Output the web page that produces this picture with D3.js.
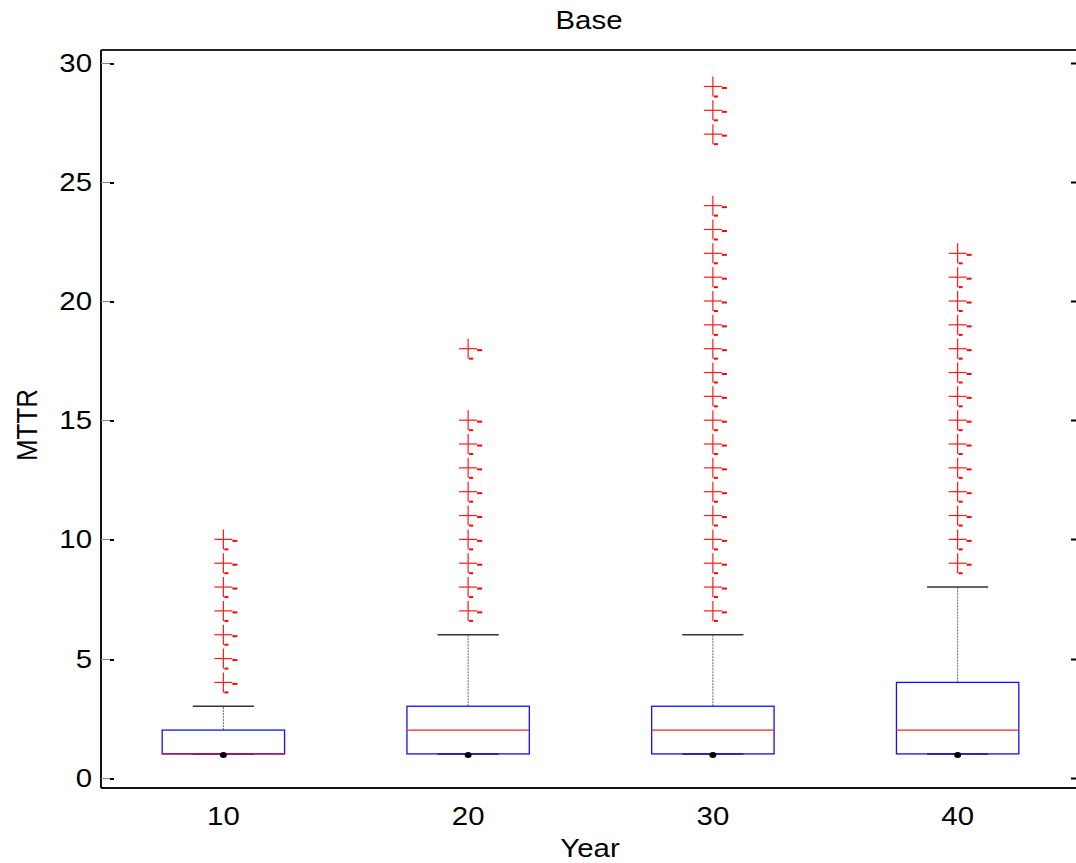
<!DOCTYPE html>
<html>
<head>
<meta charset="utf-8">
<script src="https://cdn.jsdelivr.net/npm/d3@7"></script>
<style>
  body { margin: 0; background: #fff; }
  svg { display: block; font-family: "Liberation Sans", Arial, sans-serif; }
</style>
</head>
<body>
<div id="chart"></div>
<script>
// box plot data
const years = ["10", "20", "30", "40"];
const q1 = [1, 1, 1, 1];
const medians = [1, 2, 2, 2];
const q3 = [2, 3, 3, 4];
const whiskerLow = [1, 1, 1, 1];
const whiskerHigh = [3, 6, 6, 8];
const outliers = [
  [4, 5, 6, 7, 8, 9, 10],
  [7, 8, 9, 10, 11, 12, 13, 14, 15, 18],
  [7, 8, 9, 10, 11, 12, 13, 14, 15, 16, 17, 18, 19, 20, 21, 22, 23, 24, 27, 28, 29],
  [9, 10, 11, 12, 13, 14, 15, 16, 17, 18, 19, 20, 21, 22]
];
const yTicks = [0, 5, 10, 15, 20, 25, 30];

const W = 1076, H = 863;
const plot = { left: 101, top: 50, right: 1080, bottom: 788 };
const stretch = 1.13; // the picture is a bit wider than tall, text too

const svg = d3.select("#chart").append("svg")
  .attr("width", W)
  .attr("height", H);

const x = d3.scaleLinear().domain([0.5, 4.5]).range([plot.left, plot.right]);
const y = d3.scaleLinear().domain([-0.43, 30.53]).range([plot.bottom, plot.top]);

const boxHalf = 0.25, capHalf = 0.125;

function label(px, py, txt, anchor, rot) {
  return svg.append("text")
    .attr("transform", `translate(${px},${py}) scale(${stretch},1)` + (rot ? ` rotate(${rot})` : ""))
    .attr("text-anchor", anchor)
    .style("font-size", "26px")
    .text(txt);
}

// axes frame
svg.append("line").attr("x1", plot.left).attr("x2", plot.left).attr("y1", plot.top).attr("y2", plot.bottom)
  .attr("stroke", "#111").attr("stroke-width", 2);
svg.append("line").attr("x1", plot.left).attr("x2", plot.right).attr("y1", plot.bottom).attr("y2", plot.bottom)
  .attr("stroke", "#111").attr("stroke-width", 2);
svg.append("line").attr("x1", plot.left).attr("x2", plot.right).attr("y1", plot.top).attr("y2", plot.top)
  .attr("stroke", "#222").attr("stroke-width", 2);

// y ticks (left & right)
const yt = svg.append("g");
yTicks.forEach(t => {
  const yy = Math.round(y(t)) + 0.5;
  yt.append("line").attr("x1", plot.left).attr("x2", plot.left + 9).attr("y1", yy).attr("y2", yy)
    .attr("stroke", "#888").attr("stroke-width", 1);
  yt.append("line").attr("x1", plot.left + 9).attr("x2", plot.left + 13).attr("y1", yy + 0.5).attr("y2", yy + 0.5)
    .attr("stroke", "#000").attr("stroke-width", 2);
  yt.append("line").attr("x1", plot.right - 9).attr("x2", plot.right - 4).attr("y1", yy).attr("y2", yy)
    .attr("stroke", "#000").attr("stroke-width", 2);
  label(92, y(t) + 9, t, "end");
});

// x tick labels
years.forEach((lab, i) => label(x(i + 1), 825, lab, "middle"));

// titles
label(589, 29, "Base", "middle");
label(590, 857, "Year", "middle");
label(37, y(14.8), "MTTR", "middle", -90);

// boxes
const g = svg.append("g");
years.forEach((lab, i) => {
  const c = i + 1;
  const cx = x(c);
  // upper whisker
  g.append("line").attr("x1", cx).attr("x2", cx)
    .attr("y1", y(q3[i])).attr("y2", y(whiskerHigh[i]))
    .attr("stroke", "#666").attr("stroke-width", 1).attr("stroke-dasharray", "2,1");
  g.append("line").attr("x1", x(c - capHalf)).attr("x2", x(c + capHalf))
    .attr("y1", y(whiskerHigh[i])).attr("y2", y(whiskerHigh[i]))
    .attr("stroke", "#333").attr("stroke-width", 1.5);
  // lower whisker cap
  g.append("line").attr("x1", x(c - capHalf)).attr("x2", x(c + capHalf))
    .attr("y1", y(whiskerLow[i])).attr("y2", y(whiskerLow[i]))
    .attr("stroke", "#222").attr("stroke-width", 1.5);
  // box
  g.append("rect")
    .attr("x", x(c - boxHalf)).attr("width", x(c + boxHalf) - x(c - boxHalf))
    .attr("y", y(q3[i])).attr("height", y(q1[i]) - y(q3[i]))
    .attr("fill", "none").attr("stroke", "#1010ff").attr("stroke-width", 1.3);
  // median
  g.append("line").attr("x1", x(c - boxHalf)).attr("x2", x(c + boxHalf))
    .attr("y1", y(medians[i])).attr("y2", y(medians[i]))
    .attr("stroke", medians[i] === q1[i] ? "#d0103a" : "#ff2020").attr("stroke-width", 1.3);
  // dot at lower whisker
  g.append("ellipse").attr("cx", cx).attr("cy", y(whiskerLow[i]) + 1)
    .attr("rx", 3.5).attr("ry", 3).attr("fill", "#000");
  // outliers
  outliers[i].forEach(v => {
    const oy = y(v);
    const og = g.append("g").attr("stroke", "#ff1a1a");
    og.append("line").attr("x1", cx - 9).attr("x2", cx + 9).attr("y1", oy).attr("y2", oy)
      .attr("stroke-width", 1.2);
    og.append("line").attr("x1", cx).attr("x2", cx).attr("y1", oy - 10).attr("y2", oy + 10)
      .attr("stroke-width", 1.2);
    og.append("line").attr("x1", cx + 9).attr("x2", cx + 14).attr("y1", oy + 1.5).attr("y2", oy + 1.5)
      .attr("stroke", "#ff0000").attr("stroke-width", 2);
    og.append("line").attr("x1", cx + 1).attr("x2", cx + 5).attr("y1", oy + 10).attr("y2", oy + 10)
      .attr("stroke", "#ff0000").attr("stroke-width", 2);
  });
});
</script>
</body>
</html>
